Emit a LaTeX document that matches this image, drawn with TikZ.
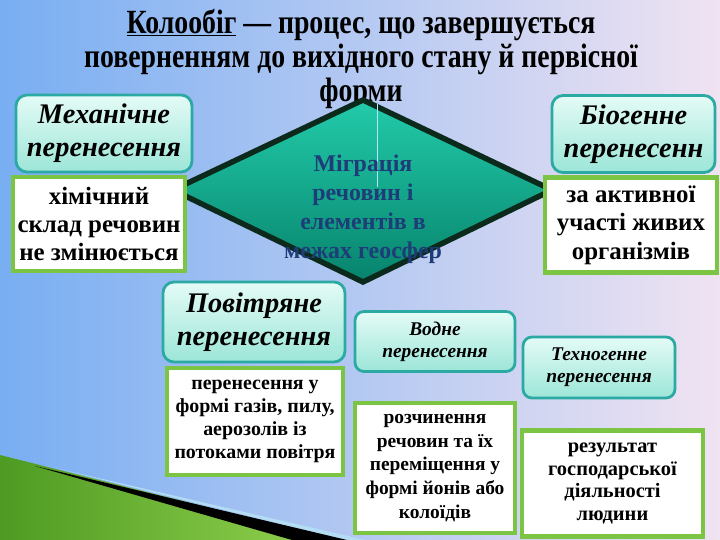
\documentclass[tikz,border=0pt]{standalone}
\usepackage{fontspec}
\setmainfont{Liberation Serif}
\newfontfamily\titlefont{Liberation Serif Bold}[FakeStretch=0.82]
\usetikzlibrary{shadings}
\definecolor{bgL}{HTML}{78AEF2}
\definecolor{bgM}{HTML}{B8CDEF}
\definecolor{bgR}{HTML}{F0E3F2}
\definecolor{tealB}{HTML}{2AAAA2}
\definecolor{mintT}{HTML}{E4FBF6}
\definecolor{mintB}{HTML}{9CE6D8}
\definecolor{greenB}{HTML}{7CC444}
\definecolor{diaT}{HTML}{22CBAA}
\definecolor{diaB}{HTML}{07836C}
\definecolor{diaEdge}{HTML}{0B2A1C}
\definecolor{migText}{HTML}{1D3C78}
\definecolor{grassL}{HTML}{4E9A22}
\definecolor{grassR}{HTML}{94D450}
\definecolor{stripe}{HTML}{B4DCF2}
\tikzset{
  headbox/.style={draw=tealB, line width=2.8bp, rounded corners=11bp,
    top color=mintT, bottom color=mintB, align=center, inner sep=0pt,
    font=\bfseries\itshape\fontsize{28.5}{33}\selectfont},
  smallhead/.style={headbox, rounded corners=9bp,
    font=\bfseries\itshape\fontsize{19.5}{22}\selectfont},
  textbox/.style={draw=greenB, line width=4.5bp, fill=white, align=center,
    inner sep=0pt, font=\bfseries\fontsize{25}{28.5}\selectfont},
  smalltext/.style={textbox, font=\bfseries\fontsize{20}{23.2}\selectfont}
}
\begin{document}
\begin{tikzpicture}[x=1bp,y=-1bp]
\useasboundingbox (0,0) rectangle (720,540);
% background
\shade[left color=bgL, middle color=bgM, right color=bgR] (0,0) rectangle (720,540);
% grass wedge
\shade[left color=grassL, right color=grassR] (0,455) -- (338,540) -- (0,540) -- cycle;
\fill[stripe] (55,468) -- (365,540) -- (345,540) -- cycle;
\fill[black] (35,466) -- (347,540) -- (292,540) -- cycle;

% title
\node[align=center, font=\titlefont\fontsize{34}{34}\selectfont] (title) at (361,59)
  {\underline{Колообіг} — процес, що завершується\\
   поверненням до вихідного стану й первісної\\
   форми};

% diamond
\coordinate (dl) at (173,190);
\coordinate (dt) at (363,100);
\coordinate (dr) at (552,190);
\coordinate (db) at (363,282);
\shade[top color=diaT, bottom color=diaB] (dl) -- (dt) -- (dr) -- (db) -- cycle;
\draw[diaEdge, line width=5.5bp, line join=miter] (dl) -- (dt) -- (dr) -- (db) -- cycle;
\draw[white!70!cyan, line width=0.8bp] (377,104) -- (377,187);
\node[align=center, text=migText, font=\bfseries\fontsize{24}{29}\selectfont] (mig) at (363,209)
  {Міграція\\речовин і\\елементів в\\межах геосфер};

% left column
\node[headbox, minimum width=176bp, minimum height=77bp] (mech) at (104,133.5)
  {Механічне\\перенесення};
\node[textbox, minimum width=172bp, minimum height=94bp] (chem) at (99,224)
  {хімічний\\склад речовин\\не змінюється};

% right column
\node[headbox, minimum width=163bp, minimum height=77bp] (bio) at (633.5,134)
  {Біогенне\\перенесенн};
\node[textbox, minimum width=172bp, minimum height=95bp] (act) at (631,225)
  {за активної\\участі живих\\організмів};

% air
\node[headbox, minimum width=182bp, minimum height=80bp] (air) at (254,322)
  {Повітряне\\перенесення};
\node[smalltext, minimum width=176bp, minimum height=107bp] (airtxt) at (255,421.5)
  {перенесення у\\формі газів, пилу,\\аерозолів із\\потоками повітря};

% water
\node[smallhead, minimum width=160bp, minimum height=60bp] (water) at (435,341.5)
  {Водне\\перенесення};
\node[smalltext, minimum width=160bp, minimum height=130bp, font=\bfseries\fontsize{19.5}{23.7}\selectfont] (diss) at (435,468)
  {розчинення\\речовин та їх\\переміщення у\\формі йонів або\\колоїдів};

% techno
\node[smallhead, minimum width=152bp, minimum height=61bp] (tech) at (599,367.5)
  {Техногенне\\перенесення};
\node[smalltext, minimum width=181bp, minimum height=106bp, font=\bfseries\fontsize{20.5}{23}\selectfont] (res) at (612.5,483.5)
  {результат\\господарської\\діяльності\\людини};
\end{tikzpicture}
\end{document}
